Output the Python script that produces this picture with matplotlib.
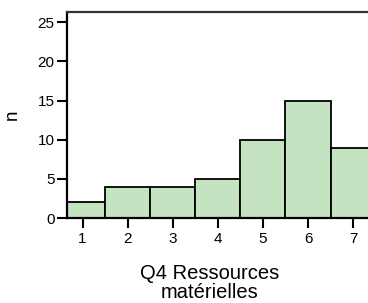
import matplotlib
matplotlib.use('Agg')
import matplotlib.pyplot as plt

categories = [1, 2, 3, 4, 5, 6, 7]
counts = [2, 4, 4, 5, 10, 15, 9]
yticks = [0, 5, 10, 15, 20, 25]

plt.rcParams['font.family'] = ['Liberation Sans', 'DejaVu Sans']

fig = plt.figure(figsize=(3.68, 3.03), dpi=100)
ax = fig.add_axes([67/368, 85/303, 301/368, 206/303])

ax.bar(categories, counts, width=1.0, color='#c4e3c1', edgecolor='black', linewidth=1.3)

ax.set_xlim(0.655, 7.33)
ax.set_ylim(0, 26.3)
ax.set_xticks(categories)
ax.set_yticks(yticks)

ax.spines['right'].set_visible(False)
ax.spines['top'].set_color('#333333')
for s in ['left', 'bottom', 'top']:
    ax.spines[s].set_linewidth(1.6)
ax.spines['left'].set_color('black')
ax.spines['bottom'].set_color('black')

ax.tick_params(axis='both', length=7, width=1.5, labelsize=11, colors='black')
ax.tick_params(axis='x', pad=3)
ax.tick_params(axis='y', pad=2)

ax.set_ylabel('n', fontsize=13.5)
ax.yaxis.set_label_coords((21-67)/301, 0.5)
ax.set_xlabel('Q4 Ressources\nmatérielles', fontsize=14.5, linespacing=1.0)
ax.xaxis.set_label_coords((210-67)/301, (218-264)/206)

fig.savefig('out.png', dpi=100)
